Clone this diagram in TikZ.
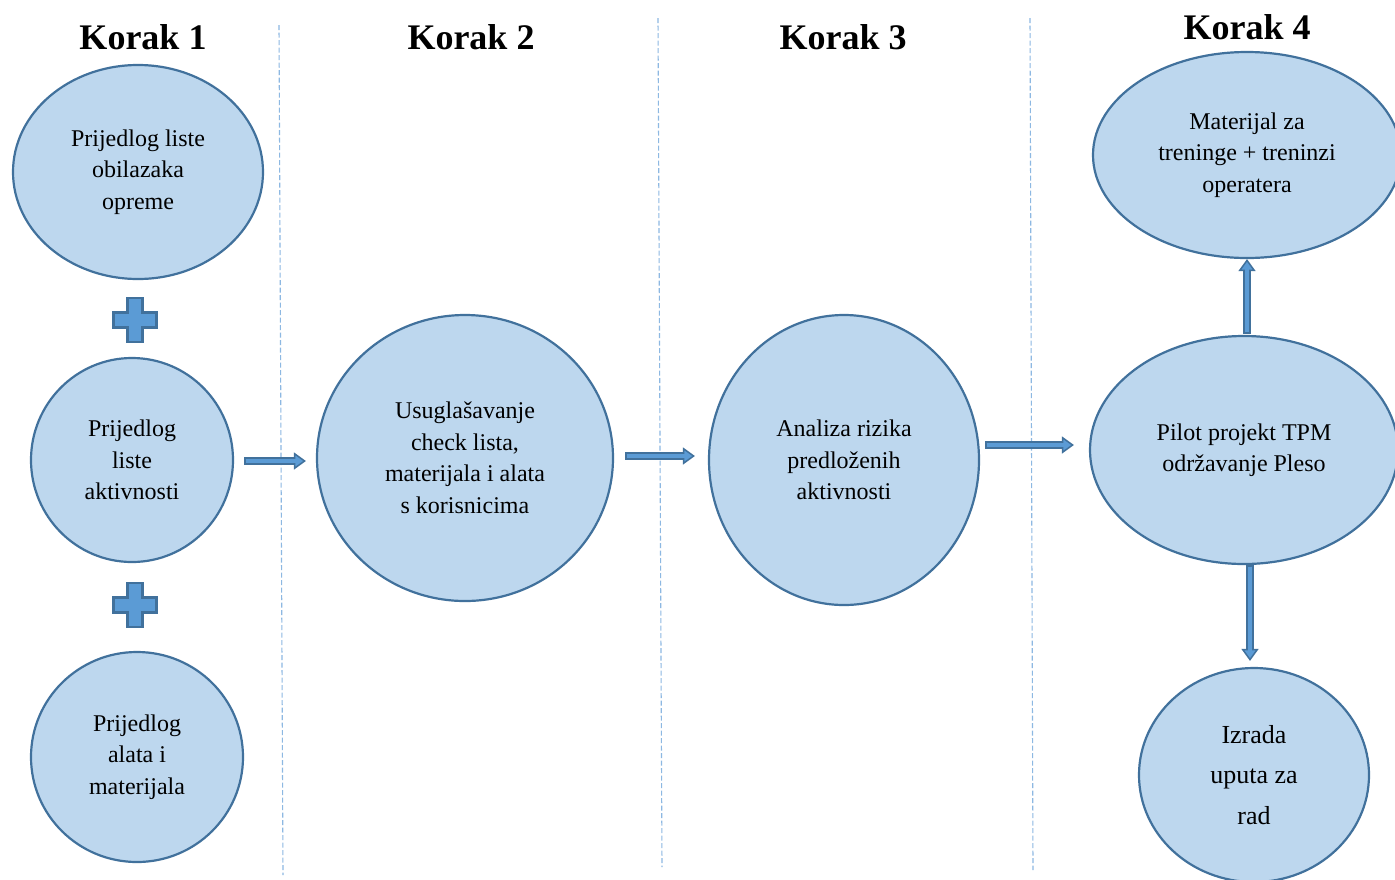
\documentclass[tikz,border=0pt]{standalone}
\usepackage{fontspec}
\setmainfont{Liberation Serif}
\usetikzlibrary{shapes.geometric,arrows.meta,calc}
\definecolor{bubblefill}{HTML}{BDD7EE}
\definecolor{rim}{HTML}{41719C}
\definecolor{arrowfill}{HTML}{5B9BD5}
\definecolor{dividercol}{HTML}{8DB8E2}

\begin{document}
\begin{tikzpicture}[x=1pt,y=-1pt,
  bubble/.style={ellipse, draw=rim, fill=bubblefill, line width=2.2pt, inner sep=0pt,
    align=center, font=\fontsize{24}{31.5}\selectfont},
  heading/.style={font=\fontsize{36}{40}\selectfont\bfseries, inner sep=0pt},
  divider/.style={draw=dividercol, line width=1.1pt, dash pattern=on 5pt off 2.5pt},
  flow/.style={draw=arrowfill, line width=4.5pt, shorten <=1.5pt,
    -{Triangle[length=12pt,width=17pt,fill=arrowfill,color=rim,line width=1.5pt]},
    preaction={draw=rim, line width=8pt, -, shorten <=0pt, shorten >=9pt},
    postaction={draw=arrowfill, line width=4.5pt, -, shorten <=1.5pt, shorten >=9pt}},
  plusmark/.style={fill=arrowfill, draw=rim, line width=2.2pt, line join=miter},
  pics/plussign/.style={code={
    \filldraw[plusmark] (-7.5,-22) -- (7.5,-22) -- (7.5,-7.5) -- (21.5,-7.5) -- (21.5,7.5)
      -- (7.5,7.5) -- (7.5,22) -- (-7.5,22) -- (-7.5,7.5) -- (-21.5,7.5) -- (-21.5,-7.5)
      -- (-7.5,-7.5) -- cycle;}}
]
\fill[white] (0,0) rectangle (1395,879);
\useasboundingbox (0,0) rectangle (1395,879);

% column separators
\draw[divider] (279,25) -- (283,875);
\draw[divider] (658,18) -- (662,867);
\draw[divider] (1030,18) -- (1033,870);

% column headings
\node[heading] (h1) at (143,37) {Korak 1};
\node[heading] (h2) at (471,37) {Korak 2};
\node[heading] (h3) at (843,37) {Korak 3};
\node[heading] (h4) at (1247,27) {Korak 4};

% step 1
\node[bubble, minimum width=250pt, minimum height=214pt] (n1) at (138,172)
  {Prijedlog liste\\obilazaka\\opreme};
\node[bubble, minimum width=202pt, minimum height=204pt] (n2) at (132,460)
  {Prijedlog\\liste\\aktivnosti};
\node[bubble, minimum width=212pt, minimum height=210pt] (n3) at (137,757)
  {Prijedlog\\alata i\\materijala};
\pic at (135,320) {plussign};
\pic at (135,605) {plussign};

% step 2
\node[bubble, minimum width=296pt, minimum height=286pt] (n4) at (465,458)
  {Usuglašavanje\\check lista,\\materijala i alata\\s korisnicima};

% step 3
\node[bubble, minimum width=270pt, minimum height=290pt] (n5) at (844,460)
  {Analiza rizika\\predloženih\\aktivnosti};

% step 4
\node[bubble, minimum width=308pt, minimum height=206pt] (n6) at (1247,155)
  {Materijal za\\treninge + treninzi\\operatera};
\node[bubble, minimum width=308pt, minimum height=228pt] (n7) at (1244,450)
  {Pilot projekt TPM\\održavanje Pleso};
\node[bubble, minimum width=230pt, minimum height=214pt,
  font=\fontsize{26}{40.5}\selectfont] (n8) at (1254,775)
  {Izrada\\uputa za\\rad};

% flow arrows
\draw[flow] ($(n2.east)+(10,1)$) -- ($(n4.west)+(-10,3)$);
\draw[flow] ($(n4.east)+(11,-2)$) -- ($(n5.west)+(-13,-4)$);
\draw[flow] ($(n5.east)+(5,-15)$) -- ($(n7.west)+(-15,-5)$);
\draw[flow] ($(n7.north)+(3,-1)$) -- (n6.south);
\draw[flow] ($(n7.south)+(6,0)$) -- ($(n8.north)+(-4,-6)$);
\end{tikzpicture}
\end{document}
